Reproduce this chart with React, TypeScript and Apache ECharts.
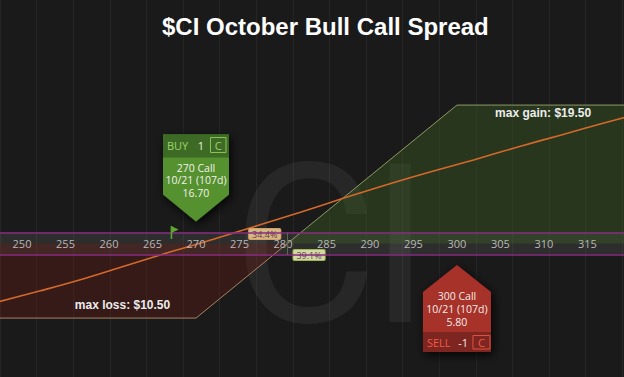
import React, { useEffect, useRef } from "react";
import * as echarts from "echarts";

// ---- data ----
const TITLE = "$CI October Bull Call Spread";
const PRICE_MIN = 247.47;
const PRICE_MAX = 319.2;
const PNL_MIN = -18.8;
const PNL_MAX = 34.3;
const xTicks = [250, 255, 260, 265, 270, 275, 280, 285, 290, 295, 300, 305, 310, 315, 320];
const buyStrike = 270;
const sellStrike = 300;
const breakeven = 280.5;
const currentPrice = 267.2;
const lossPrices = [247.47, 270, 280.5];
const lossValues = [-10.5, -10.5, 0];
const gainPrices = [280.5, 300, 319.2];
const gainValues = [0, 19.5, 19.5];
const tPrices = [247, 252, 257, 262, 267, 272, 277, 282, 287, 292, 297, 302, 307, 312, 317, 320];
const tValues = [-8.3, -6.7, -5.0, -3.1, -1.2, 0.6, 2.5, 4.4, 6.4, 8.3, 10.1, 11.8, 13.6, 15.3, 17.0, 18.0];
const bandHalf = 1.55;
const probLabels = [
  { price: 277.9, value: 1.48, text: "34.4%", bg: "#cdb98c", border: "#e09a5a", color: "#7a3434" },
  { price: 283.0, value: -1.48, text: "39.1%", bg: "#d2d9a2", border: "#9db654", color: "#6a3a5c" },
];
const gainLabel = { price: 309.9, value: 18.34, text: "max gain: $19.50" };
const lossLabel = { price: 261.55, value: -8.66, text: "max loss: $10.50" };
const buyLeg = { side: "BUY", qty: "1", type: "C", lines: ["270 Call", "10/21 (107d)", "16.70"] };
const sellLeg = { side: "SELL", qty: "-1", type: "C", lines: ["300 Call", "10/21 (107d)", "5.80"] };
const gridCols = 17.05;

const CHART_H = 377;
const zip = (a: number[], b: number[]) => a.map((v, i) => [v, b[i]]);
const FONT = '"Open Sans", "Noto Sans", sans-serif';

function buyCallout(tx: number, ty: number, leg: typeof buyLeg) {
  const W = 66;
  const L = tx - W / 2, R = tx + W / 2, T = ty - 87, B = ty - 27;
  return [
    { type: "polygon", shape: { points: [[L, T], [R, T], [R, B], [tx, ty], [L, B]] },
      style: { fill: "#55912f", shadowBlur: 10, shadowColor: "rgba(0,0,0,0.85)", shadowOffsetX: 2, shadowOffsetY: 3 } },
    { type: "rect", shape: { x: L, y: T, width: W, height: 23 }, style: { fill: "#3d6b25" } },
    { type: "text", x: L + 4, y: T + 11, style: { text: leg.side, fill: "#9fd36a", font: `11px ${FONT}`, align: "left", verticalAlign: "middle" } },
    { type: "text", x: tx + 8, y: T + 11, style: { text: leg.qty, fill: "#eeeede", font: `11px ${FONT}`, align: "right", verticalAlign: "middle" } },
    { type: "rect", shape: { x: tx + 14.5, y: T + 3, width: 15.5, height: 15 }, style: { fill: "none", stroke: "#8cc45a", lineWidth: 1 } },
    { type: "text", x: tx + 22.25, y: T + 10.5, style: { text: leg.type, fill: "#9fd36a", font: `11px ${FONT}`, align: "center", verticalAlign: "middle" } },
    ...leg.lines.map((t, i) => ({ type: "text", x: tx, y: ty - 54 + i * 12.8,
      style: { text: t, fill: "#f2f2ea", font: `10.5px ${FONT}`, align: "center", verticalAlign: "middle" } })),
  ];
}

function sellCallout(tx: number, ty: number, leg: typeof sellLeg) {
  const W = 68;
  const L = tx - W / 2, R = tx + W / 2, S = ty + 27, B = ty + 87, H = ty + 67;
  return [
    { type: "polygon", shape: { points: [[tx, ty], [R, S], [R, B], [L, B], [L, S]] },
      style: { fill: "#a6302a", shadowBlur: 10, shadowColor: "rgba(0,0,0,0.85)", shadowOffsetX: 2, shadowOffsetY: 3 } },
    { type: "rect", shape: { x: L, y: H, width: W, height: B - H }, style: { fill: "#7d2521" } },
    { type: "text", x: L + 4, y: H + 10, style: { text: leg.side, fill: "#f05a45", font: `11px ${FONT}`, align: "left", verticalAlign: "middle" } },
    { type: "text", x: tx + 11, y: H + 10, style: { text: leg.qty, fill: "#f2e8e4", font: `11px ${FONT}`, align: "right", verticalAlign: "middle" } },
    { type: "rect", shape: { x: tx + 16, y: H + 3.5, width: 17, height: 13.5 }, style: { fill: "none", stroke: "#e0523f", lineWidth: 1 } },
    { type: "text", x: tx + 24.5, y: H + 10, style: { text: leg.type, fill: "#f05a45", font: `11px ${FONT}`, align: "center", verticalAlign: "middle" } },
    ...leg.lines.map((t, i) => ({ type: "text", x: tx, y: ty + 31 + i * 13,
      style: { text: t, fill: "#f4ece8", font: `10.5px ${FONT}`, align: "center", verticalAlign: "middle" } })),
  ];
}

export default function App() {
  const ref = useRef<HTMLDivElement>(null);
  useEffect(() => {
    if (!ref.current) return;
    const chart = echarts.init(ref.current, null, { renderer: "svg" });
    const zeroFromBottom = (0 - PNL_MIN) / (PNL_MAX - PNL_MIN) * CHART_H;
    const labelPoint = (p: { price: number; value: number; text: string }) => ({
      coord: [p.price, p.value], symbolSize: 0,
      label: { show: true, formatter: p.text, position: "inside", color: "#ececec", fontWeight: "bold", fontSize: 12,
        fontFamily: '"Liberation Sans", Arial, sans-serif' },
    });
    const option: any = {
      backgroundColor: "#1a1a1a",
      animation: false,
      title: {
        text: TITLE, left: 157, top: 9,
        textStyle: { color: "#ffffff", fontSize: 24, fontWeight: "bold", fontFamily: '"Liberation Sans", Arial, sans-serif' },
      },
      grid: { left: 0, right: 0, top: 0, bottom: 0 },
      xAxis: [
        {
          type: "value", min: PRICE_MIN, max: PRICE_MAX, z: 6, position: "bottom", offset: -zeroFromBottom,
          axisLine: { show: false, onZero: false }, axisTick: { show: false }, splitLine: { show: false },
          axisLabel: { customValues: xTicks, color: "#b8b8b8", fontSize: 11, fontFamily: FONT, margin: 0, verticalAlign: "middle" },
        },
        {
          type: "value", min: 0, max: gridCols, interval: 1, position: "top",
          axisLine: { show: false }, axisTick: { show: false }, axisLabel: { show: false },
          splitLine: { show: true, lineStyle: { color: "#252525", width: 1 } },
        },
      ],
      yAxis: { type: "value", min: PNL_MIN, max: PNL_MAX, show: false, splitLine: { show: false } },
      series: [
        {
          type: "line", name: "loss", data: zip(lossPrices, lossValues), symbol: "none", z: 2,
          lineStyle: { color: "#a9845f", width: 1 }, areaStyle: { color: "rgba(105,30,24,0.5)" },
          markArea: { silent: true, itemStyle: { color: "rgba(255,255,255,0.085)" },
            data: [[{ yAxis: -bandHalf }, { yAxis: bandHalf }]] },
          markLine: {
            silent: true, symbol: "none", label: { show: false }, z: 8,
            lineStyle: { color: "#8a2b80", width: 1.5, type: "solid" },
            data: [
              { yAxis: bandHalf }, { yAxis: -bandHalf },
              [{ coord: [breakeven, -bandHalf], lineStyle: { color: "#5d6a4a", width: 1, type: "solid" } },
               { coord: [breakeven, bandHalf] }],
            ],
          },
          markPoint: { silent: true, data: [labelPoint(lossLabel)] },
        },
        {
          type: "line", name: "gain", data: zip(gainPrices, gainValues), symbol: "none", z: 2,
          lineStyle: { color: "#8e9a63", width: 1 }, areaStyle: { color: "rgba(62,98,36,0.55)" },
          markPoint: { silent: true, data: [labelPoint(gainLabel)] },
        },
        {
          type: "line", name: "T+0", data: zip(tPrices, tValues), symbol: "none", smooth: 0.4, z: 3,
          lineStyle: { color: "#d4692a", width: 1.6 },
          markPoint: {
            silent: true,
            data: probLabels.map((p) => ({
              coord: [p.price, p.value], symbolSize: 0,
              label: { show: true, formatter: p.text, position: "inside", color: p.color, fontSize: 9, fontFamily: FONT,
                backgroundColor: p.bg, borderColor: p.border, borderWidth: 1, borderRadius: 1, padding: [1, 3, 0, 3],
                offset: [0, 1] },
            })),
          },
        },
      ],
    };
    chart.setOption(option);

    const px = (price: number, v: number) => chart.convertToPixel({ xAxisIndex: 0, yAxisIndex: 0 }, [price, v]) as number[];
    const buyP = px(buyStrike, 0);
    const sellP = px(sellStrike, 0);
    const flagP = px(currentPrice, 0);
    const zy = buyP[1];

    const withZ = (arr: any[], z: number) => arr.map((e) => ({ ...e, z }));
    const graphic = [
      ...withZ([
        { type: "text", x: 305, y: zy + 2, style: { text: "C", font: `400 222px Roboto, sans-serif`, fill: "rgba(255,255,255,0.06)", align: "center", verticalAlign: "middle" } },
        { type: "text", x: 400, y: zy + 2, style: { text: "I", font: `400 222px Roboto, sans-serif`, fill: "rgba(255,255,255,0.06)", align: "center", verticalAlign: "middle" } },
      ], 1),
      ...withZ([
        { type: "rect", shape: { x: flagP[0] - 1, y: zy - 17.5, width: 1.6, height: 13 }, style: { fill: "#5ea832" } },
        { type: "polygon", shape: { points: [[flagP[0] - 0.5, zy - 17.5], [flagP[0] + 7, zy - 14], [flagP[0] - 0.5, zy - 10.5]] }, style: { fill: "#5ea832" } },
      ], 50),
      ...withZ(buyCallout(buyP[0], zy - 22, buyLeg), 100),
      ...withZ(sellCallout(sellP[0], zy + 21.5, sellLeg), 100),
    ];
    chart.setOption({ graphic });
    return () => chart.dispose();
  }, []);
  return <div ref={ref} style={{ position: "fixed", left: 0, top: 0, width: 624, height: 377 }} />;
}
